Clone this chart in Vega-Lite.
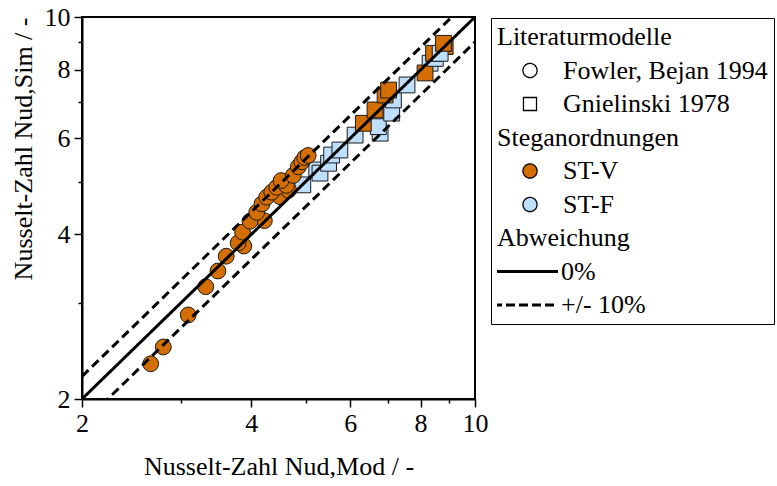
{
  "$schema": "https://vega.github.io/schema/vega-lite/v6.json",
  "width": 393,
  "height": 382,
  "autosize": {"type": "none"},
  "padding": {"left": 82, "top": 17, "right": 302, "bottom": 87},
  "background": "white",
  "datasets": {
    "pts": [
      {"x": 4.94, "y": 4.93, "model": "Gnielinski 1978", "arr": "ST-F"},
      {"x": 5.23, "y": 5.25, "model": "Gnielinski 1978", "arr": "ST-F"},
      {"x": 5.30, "y": 5.18, "model": "Gnielinski 1978", "arr": "ST-F"},
      {"x": 5.49, "y": 5.40, "model": "Gnielinski 1978", "arr": "ST-F"},
      {"x": 5.56, "y": 5.59, "model": "Gnielinski 1978", "arr": "ST-F"},
      {"x": 5.75, "y": 5.71, "model": "Gnielinski 1978", "arr": "ST-F"},
      {"x": 6.12, "y": 6.08, "model": "Gnielinski 1978", "arr": "ST-F"},
      {"x": 6.78, "y": 6.13, "model": "Gnielinski 1978", "arr": "ST-F"},
      {"x": 6.73, "y": 6.30, "model": "Gnielinski 1978", "arr": "ST-F"},
      {"x": 7.11, "y": 6.67, "model": "Gnielinski 1978", "arr": "ST-F"},
      {"x": 7.16, "y": 7.05, "model": "Gnielinski 1978", "arr": "ST-F"},
      {"x": 7.57, "y": 7.51, "model": "Gnielinski 1978", "arr": "ST-F"},
      {"x": 8.32, "y": 8.23, "model": "Gnielinski 1978", "arr": "ST-F"},
      {"x": 6.33, "y": 6.39, "model": "Gnielinski 1978", "arr": "ST-V"},
      {"x": 6.64, "y": 6.76, "model": "Gnielinski 1978", "arr": "ST-V"},
      {"x": 6.92, "y": 7.20, "model": "Gnielinski 1978", "arr": "ST-V"},
      {"x": 7.02, "y": 7.35, "model": "Gnielinski 1978", "arr": "ST-V"},
      {"x": 8.15, "y": 7.90, "model": "Gnielinski 1978", "arr": "ST-V"},
      {"x": 8.50, "y": 8.40, "model": "Gnielinski 1978", "arr": "ST-F"},
      {"x": 8.44, "y": 8.58, "model": "Gnielinski 1978", "arr": "ST-V"},
      {"x": 8.85, "y": 8.83, "model": "Gnielinski 1978", "arr": "ST-V"},
      {"x": 8.67, "y": 8.58, "model": "Gnielinski 1978", "arr": "ST-F"},
      {"x": 8.79, "y": 8.95, "model": "Gnielinski 1978", "arr": "ST-V"},
      {"x": 2.65, "y": 2.32, "model": "Fowler, Bejan 1994", "arr": "ST-V"},
      {"x": 2.79, "y": 2.49, "model": "Fowler, Bejan 1994", "arr": "ST-V"},
      {"x": 3.09, "y": 2.85, "model": "Fowler, Bejan 1994", "arr": "ST-V"},
      {"x": 3.32, "y": 3.21, "model": "Fowler, Bejan 1994", "arr": "ST-V"},
      {"x": 3.49, "y": 3.43, "model": "Fowler, Bejan 1994", "arr": "ST-V"},
      {"x": 3.61, "y": 3.65, "model": "Fowler, Bejan 1994", "arr": "ST-V"},
      {"x": 3.88, "y": 3.81, "model": "Fowler, Bejan 1994", "arr": "ST-V"},
      {"x": 3.79, "y": 3.86, "model": "Fowler, Bejan 1994", "arr": "ST-V"},
      {"x": 3.86, "y": 4.04, "model": "Fowler, Bejan 1994", "arr": "ST-V"},
      {"x": 4.22, "y": 4.24, "model": "Fowler, Bejan 1994", "arr": "ST-V"},
      {"x": 3.98, "y": 4.23, "model": "Fowler, Bejan 1994", "arr": "ST-V"},
      {"x": 4.09, "y": 4.39, "model": "Fowler, Bejan 1994", "arr": "ST-V"},
      {"x": 4.50, "y": 4.69, "model": "Fowler, Bejan 1994", "arr": "ST-V"},
      {"x": 4.66, "y": 4.82, "model": "Fowler, Bejan 1994", "arr": "ST-V"},
      {"x": 4.18, "y": 4.55, "model": "Fowler, Bejan 1994", "arr": "ST-V"},
      {"x": 4.26, "y": 4.68, "model": "Fowler, Bejan 1994", "arr": "ST-V"},
      {"x": 4.35, "y": 4.78, "model": "Fowler, Bejan 1994", "arr": "ST-V"},
      {"x": 4.44, "y": 4.88, "model": "Fowler, Bejan 1994", "arr": "ST-V"},
      {"x": 4.62, "y": 4.92, "model": "Fowler, Bejan 1994", "arr": "ST-V"},
      {"x": 4.52, "y": 5.02, "model": "Fowler, Bejan 1994", "arr": "ST-V"},
      {"x": 4.75, "y": 5.13, "model": "Fowler, Bejan 1994", "arr": "ST-V"},
      {"x": 4.85, "y": 5.32, "model": "Fowler, Bejan 1994", "arr": "ST-V"},
      {"x": 4.92, "y": 5.43, "model": "Fowler, Bejan 1994", "arr": "ST-V"},
      {"x": 4.98, "y": 5.53, "model": "Fowler, Bejan 1994", "arr": "ST-V"},
      {"x": 5.05, "y": 5.58, "model": "Fowler, Bejan 1994", "arr": "ST-V"}
    ],
    "lines": [
      {"x": 2, "y": 2, "line": "a", "kind": "0%"},
      {"x": 10, "y": 10, "line": "a", "kind": "0%"},
      {"x": 2, "y": 2.2, "line": "b", "kind": "+/- 10%"},
      {"x": 10, "y": 11, "line": "b", "kind": "+/- 10%"},
      {"x": 2, "y": 1.8, "line": "c", "kind": "+/- 10%"},
      {"x": 10, "y": 9, "line": "c", "kind": "+/- 10%"}
    ]
  },
  "encoding": {
    "x": {
      "field": "x", "type": "quantitative",
      "scale": {"type": "log", "domain": [2, 10], "nice": false},
      "axis": {
        "title": "Nusselt-Zahl Nud,Mod / -",
        "values": [2, 3, 4, 5, 6, 7, 8, 9, 10],
        "labelExpr": "indexof([2,4,6,8,10], datum.value) >= 0 ? '' + datum.value : ''",
        "tickSize": {"condition": {"test": "indexof([2,4,6,8,10], datum.value) >= 0", "value": 8}, "value": 4},
        "labelFlush": false, "labelOverlap": false, "labelPadding": 3, "titlePadding": 17
      }
    },
    "y": {
      "field": "y", "type": "quantitative",
      "scale": {"type": "log", "domain": [2, 10], "nice": false},
      "axis": {
        "title": "Nusselt-Zahl Nud,Sim / -",
        "titleAnchor": "end",
        "values": [2, 3, 4, 5, 6, 7, 8, 9, 10],
        "labelExpr": "indexof([2,4,6,8,10], datum.value) >= 0 ? '' + datum.value : ''",
        "tickSize": {"condition": {"test": "indexof([2,4,6,8,10], datum.value) >= 0", "value": 8}, "value": 4},
        "labelFlush": false, "labelOverlap": false, "labelPadding": 4, "titlePadding": 8
      }
    }
  },
  "layer": [
    {
      "data": {"name": "pts"},
      "mark": {"type": "point", "filled": true, "size": 250, "stroke": "#1a1a1a", "strokeWidth": 1, "opacity": 1},
      "encoding": {
        "shape": {
          "field": "model", "type": "nominal",
          "scale": {
            "domain": ["Literaturmodelle", "Fowler, Bejan 1994", "Gnielinski 1978", "Steganordnungen", "ST-V", "ST-F", "Abweichung", "0%", "+/- 10%"],
            "range": ["circle", "circle", "square", "circle", "circle", "circle", "circle", "M-5,0H5", "M-5,0H5"]
          },
          "legend": {
            "title": null,
            "orient": "none", "legendX": 409, "legendY": 1,
            "padding": 6,
            "rowPadding": 7.5,
            "clipHeight": 26,
            "strokeColor": "black",
            "symbolFillColor": {"expr": "(datum.value == 'ST-V' ? '#D56E00' : datum.value == 'ST-F' ? '#BFDFFF' : (datum.value == 'Fowler, Bejan 1994' || datum.value == 'Gnielinski 1978') ? 'white' : 'transparent')"},
            "symbolStrokeColor": {"expr": "(indexof(['Literaturmodelle', 'Steganordnungen', 'Abweichung'], datum.value) >= 0 ? 'transparent' : 'black')"},
            "symbolStrokeWidth": {"expr": "((datum.value == '0%' || datum.value == '+/- 10%') ? 3 : 1.3)"},
            "symbolDash": {"expr": "(datum.value == '+/- 10%' ? [9, 4] : [1, 0])"},
            "symbolSize": {"expr": "((datum.value == '0%' || datum.value == '+/- 10%') ? 169 : datum.value == 'Gnielinski 1978' ? 170 : indexof(['Literaturmodelle', 'Steganordnungen', 'Abweichung'], datum.value) >= 0 ? 0 : 200)"},
            "symbolOffset": {"expr": "((datum.value == '0%' || datum.value == '+/- 10%') ? 15.5 : indexof(['Literaturmodelle', 'Steganordnungen', 'Abweichung'], datum.value) >= 0 ? 0 : 20)"},
            "labelOffset": {"expr": "((datum.value == '0%' || datum.value == '+/- 10%') ? 22.5 : indexof(['Literaturmodelle', 'Steganordnungen', 'Abweichung'], datum.value) >= 0 ? -26 : 20)"}
          }
        },
        "fill": {
          "field": "arr", "type": "nominal",
          "scale": {"domain": ["ST-V", "ST-F"], "range": ["#D56E00", "#BFDFFF"]},
          "legend": null
        }
      }
    },
    {
      "data": {"name": "lines"},
      "mark": {"type": "line", "strokeWidth": 3, "color": "black", "clip": true},
      "encoding": {
        "detail": {"field": "line", "type": "nominal"},
        "strokeDash": {
          "field": "kind", "type": "nominal",
          "scale": {"domain": ["0%", "+/- 10%"], "range": [[1, 0], [9, 5]]},
          "legend": null
        }
      }
    }
  ],
  "config": {
    "view": {"stroke": "black", "strokeWidth": 2},
    "axis": {
      "grid": false,
      "domainColor": "black", "domainWidth": 2,
      "tickColor": "black", "tickWidth": 1.5,
      "labelFont": "Liberation Serif", "labelFontSize": 26, "labelColor": "black",
      "titleFont": "Liberation Serif", "titleFontSize": 26, "titleFontWeight": "normal", "titleColor": "black"
    },
    "legend": {
      "labelFont": "Liberation Serif", "labelFontSize": 26, "labelColor": "black", "labelLimit": 400,
      "titleFont": "Liberation Serif", "titleFontSize": 26, "titleFontWeight": "normal", "titleColor": "black",
      "symbolOpacity": 1
    }
  }
}
